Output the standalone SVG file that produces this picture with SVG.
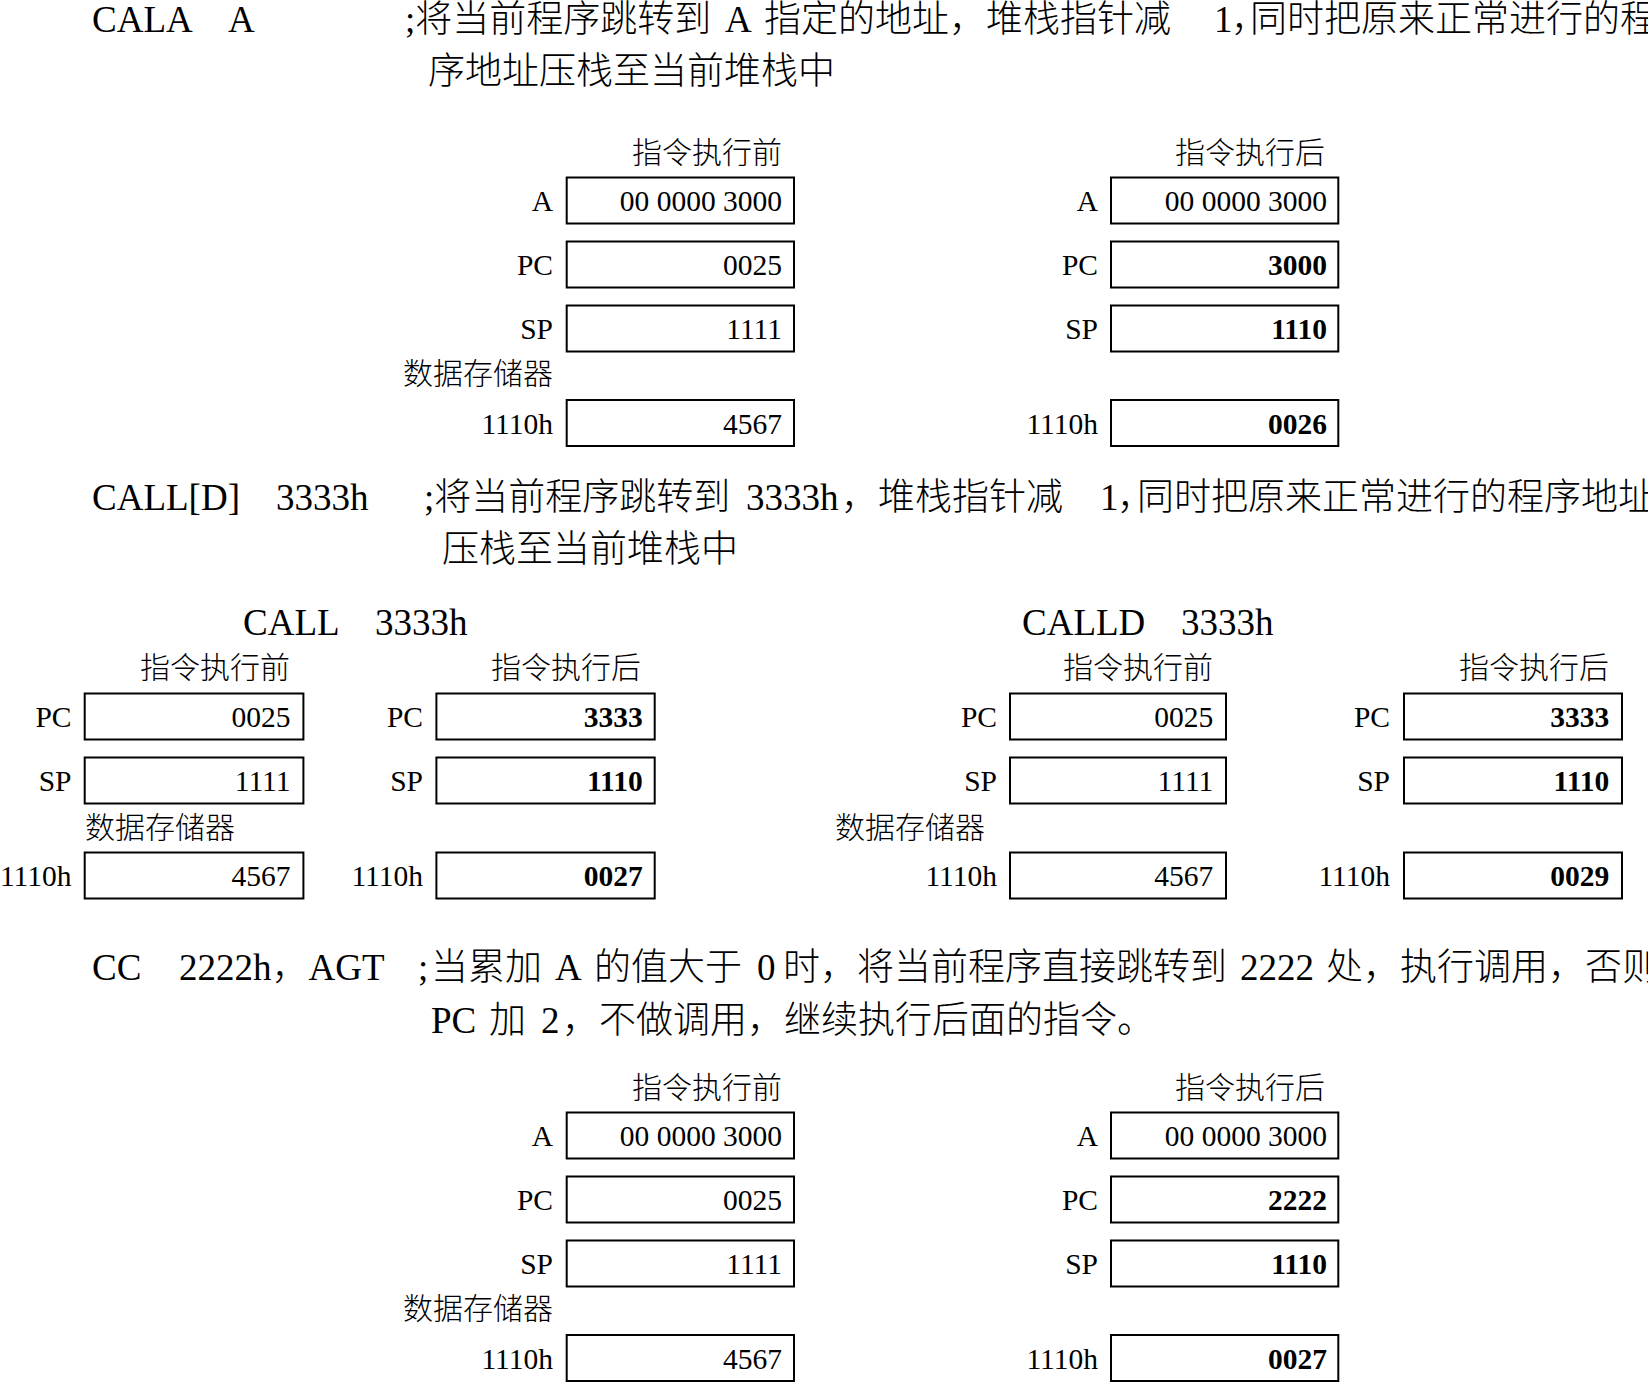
<svg xmlns="http://www.w3.org/2000/svg" width="1648" height="1383" viewBox="0 0 1648 1383">
<style>
.h{font-family:"Liberation Serif","Noto Sans CJK SC",serif;font-size:37px;font-weight:300;fill:#000}
.t{font-family:"Noto Sans CJK SC",sans-serif;font-size:30px;font-weight:300;fill:#000}
.te{font-family:"Noto Sans CJK SC",sans-serif;font-size:30px;font-weight:300;fill:#000;text-anchor:end}
.l{font-family:"Liberation Serif",serif;font-size:29.5px;fill:#000;text-anchor:end}
.v{font-family:"Liberation Serif",serif;font-size:29.5px;fill:#000;text-anchor:end}
.b{font-weight:bold}
.bx{fill:none;stroke:#000;stroke-width:2}
</style>
<rect x="0" y="0" width="1648" height="1383" fill="#fff"/>
<g id="connectors"/>

<!-- Section 1 heading -->
<g id="heading1">
<text class="h" y="32"><tspan x="92">CALA</tspan><tspan x="228">A</tspan><tspan x="405">;将当前程序跳转到</tspan><tspan x="725">A</tspan><tspan x="764">指定的地址，堆栈指针减</tspan><tspan x="1214">1</tspan><tspan x="1231">，</tspan><tspan x="1250">同时把原来正常进行的程</tspan></text>
<text class="h" x="428" y="84">序地址压栈至当前堆栈中</text>
</g>

<!-- Section 1 before -->
<g id="s1-before">
<text class="te" x="782" y="163">指令执行前</text>
<g id="s1b-A"><text class="l" x="553" y="211">A</text><rect class="bx" x="566.7" y="177.5" width="227.3" height="46"/><text class="v" x="782" y="211">00 0000 3000</text></g>
<g id="s1b-PC"><text class="l" x="553" y="275">PC</text><rect class="bx" x="566.7" y="241.5" width="227.3" height="46"/><text class="v" x="782" y="275">0025</text></g>
<g id="s1b-SP"><text class="l" x="553" y="339">SP</text><rect class="bx" x="566.7" y="305.5" width="227.3" height="46"/><text class="v" x="782" y="339">1111</text></g>
<text class="t" x="403" y="384">数据存储器</text>
<g id="s1b-M"><text class="l" x="553" y="433.5">1110h</text><rect class="bx" x="566.7" y="400" width="227.3" height="46"/><text class="v" x="782" y="433.5">4567</text></g>
</g>

<!-- Section 1 after -->
<g id="s1-after">
<text class="te" x="1325" y="163">指令执行后</text>
<g id="s1a-A"><text class="l" x="1098" y="211">A</text><rect class="bx" x="1111" y="177.5" width="227.3" height="46"/><text class="v" x="1327" y="211">00 0000 3000</text></g>
<g id="s1a-PC"><text class="l" x="1098" y="275">PC</text><rect class="bx" x="1111" y="241.5" width="227.3" height="46"/><text class="v b" x="1327" y="275">3000</text></g>
<g id="s1a-SP"><text class="l" x="1098" y="339">SP</text><rect class="bx" x="1111" y="305.5" width="227.3" height="46"/><text class="v b" x="1327" y="339">1110</text></g>
<g id="s1a-M"><text class="l" x="1098" y="433.5">1110h</text><rect class="bx" x="1111" y="400" width="227.3" height="46"/><text class="v b" x="1327" y="433.5">0026</text></g>
</g>

<!-- Section 2 heading -->
<g id="heading2">
<text class="h" y="510"><tspan x="92">CALL[D]</tspan><tspan x="276">3333h</tspan><tspan x="424">;将当前程序跳转到</tspan><tspan x="746">3333h</tspan><tspan x="841">，堆栈指针减</tspan><tspan x="1100">1</tspan><tspan x="1117">，</tspan><tspan x="1137">同时把原来正常进行的程序地址</tspan></text>
<text class="h" x="442" y="562">压栈至当前堆栈中</text>
<text class="h" y="635"><tspan x="243">CALL</tspan><tspan x="375">3333h</tspan></text>
<text class="h" y="635"><tspan x="1022">CALLD</tspan><tspan x="1181">3333h</tspan></text>
</g>

<!-- CALL before -->
<g id="call-before">
<text class="te" x="290" y="678">指令执行前</text>
<g id="cb-PC"><text class="l" x="71.5" y="727">PC</text><rect class="bx" x="84.7" y="693.5" width="218.7" height="46"/><text class="v" x="290.5" y="727">0025</text></g>
<g id="cb-SP"><text class="l" x="71.5" y="791">SP</text><rect class="bx" x="84.7" y="757.5" width="218.7" height="46"/><text class="v" x="290.5" y="791">1111</text></g>
<text class="t" x="85" y="838">数据存储器</text>
<g id="cb-M"><text class="l" x="71.5" y="886">1110h</text><rect class="bx" x="84.7" y="852.5" width="218.7" height="46"/><text class="v" x="290.5" y="886">4567</text></g>
</g>

<!-- CALL after -->
<g id="call-after">
<text class="te" x="641" y="678">指令执行后</text>
<g id="ca-PC"><text class="l" x="423" y="727">PC</text><rect class="bx" x="436.4" y="693.5" width="218.3" height="46"/><text class="v b" x="642.7" y="727">3333</text></g>
<g id="ca-SP"><text class="l" x="423" y="791">SP</text><rect class="bx" x="436.4" y="757.5" width="218.3" height="46"/><text class="v b" x="642.7" y="791">1110</text></g>
<g id="ca-M"><text class="l" x="423" y="886">1110h</text><rect class="bx" x="436.4" y="852.5" width="218.3" height="46"/><text class="v b" x="642.7" y="886">0027</text></g>
</g>

<!-- CALLD before -->
<g id="calld-before">
<text class="te" x="1213" y="678">指令执行前</text>
<g id="db-PC"><text class="l" x="997" y="727">PC</text><rect class="bx" x="1010" y="693.5" width="216" height="46"/><text class="v" x="1213.3" y="727">0025</text></g>
<g id="db-SP"><text class="l" x="997" y="791">SP</text><rect class="bx" x="1010" y="757.5" width="216" height="46"/><text class="v" x="1213.3" y="791">1111</text></g>
<text class="t" x="835" y="838">数据存储器</text>
<g id="db-M"><text class="l" x="997" y="886">1110h</text><rect class="bx" x="1010" y="852.5" width="216" height="46"/><text class="v" x="1213.3" y="886">4567</text></g>
</g>

<!-- CALLD after -->
<g id="calld-after">
<text class="te" x="1609" y="678">指令执行后</text>
<g id="da-PC"><text class="l" x="1390" y="727">PC</text><rect class="bx" x="1404" y="693.5" width="218" height="46"/><text class="v b" x="1609.3" y="727">3333</text></g>
<g id="da-SP"><text class="l" x="1390" y="791">SP</text><rect class="bx" x="1404" y="757.5" width="218" height="46"/><text class="v b" x="1609.3" y="791">1110</text></g>
<g id="da-M"><text class="l" x="1390" y="886">1110h</text><rect class="bx" x="1404" y="852.5" width="218" height="46"/><text class="v b" x="1609.3" y="886">0029</text></g>
</g>

<!-- Section 3 heading -->
<g id="heading3">
<text class="h" y="980"><tspan x="92">CC</tspan><tspan x="179">2222h，AGT</tspan><tspan x="418">;</tspan><tspan x="431">当累加</tspan><tspan x="555">A</tspan><tspan x="594">的值大于</tspan><tspan x="757">0</tspan><tspan x="783">时，将当前程序直接跳转到</tspan><tspan x="1240">2222</tspan><tspan x="1326">处，执行调用，否则</tspan></text>
<text class="h" y="1033"><tspan x="431">PC</tspan><tspan x="489">加</tspan><tspan x="541">2</tspan><tspan x="562">，不做调用，继续执行后面的指令。</tspan></text>
</g>

<!-- Section 3 before -->
<g id="s3-before">
<text class="te" x="782" y="1098">指令执行前</text>
<g id="s3b-A"><text class="l" x="553" y="1146">A</text><rect class="bx" x="566.7" y="1112.5" width="227.3" height="46"/><text class="v" x="782" y="1146">00 0000 3000</text></g>
<g id="s3b-PC"><text class="l" x="553" y="1210">PC</text><rect class="bx" x="566.7" y="1176.5" width="227.3" height="46"/><text class="v" x="782" y="1210">0025</text></g>
<g id="s3b-SP"><text class="l" x="553" y="1274">SP</text><rect class="bx" x="566.7" y="1240.5" width="227.3" height="46"/><text class="v" x="782" y="1274">1111</text></g>
<text class="t" x="403" y="1319">数据存储器</text>
<g id="s3b-M"><text class="l" x="553" y="1368.5">1110h</text><rect class="bx" x="566.7" y="1335" width="227.3" height="46"/><text class="v" x="782" y="1368.5">4567</text></g>
</g>

<!-- Section 3 after -->
<g id="s3-after">
<text class="te" x="1325" y="1098">指令执行后</text>
<g id="s3a-A"><text class="l" x="1098" y="1146">A</text><rect class="bx" x="1111" y="1112.5" width="227.3" height="46"/><text class="v" x="1327" y="1146">00 0000 3000</text></g>
<g id="s3a-PC"><text class="l" x="1098" y="1210">PC</text><rect class="bx" x="1111" y="1176.5" width="227.3" height="46"/><text class="v b" x="1327" y="1210">2222</text></g>
<g id="s3a-SP"><text class="l" x="1098" y="1274">SP</text><rect class="bx" x="1111" y="1240.5" width="227.3" height="46"/><text class="v b" x="1327" y="1274">1110</text></g>
<g id="s3a-M"><text class="l" x="1098" y="1368.5">1110h</text><rect class="bx" x="1111" y="1335" width="227.3" height="46"/><text class="v b" x="1327" y="1368.5">0027</text></g>
</g>
</svg>
